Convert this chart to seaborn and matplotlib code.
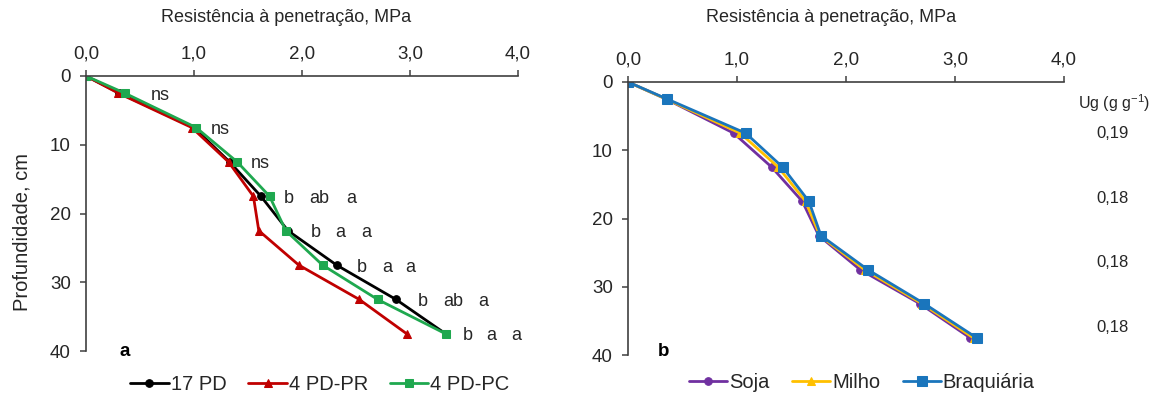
import matplotlib
matplotlib.use("Agg")
import matplotlib.pyplot as plt
import seaborn as sns
import pandas as pd
from matplotlib.ticker import FuncFormatter

depth = [0, 2.5, 7.5, 12.5, 17.5, 22.5, 27.5, 32.5, 37.5]

pd17 = [0.0, 0.31, 1.00, 1.33, 1.62, 1.87, 2.32, 2.87, 3.33]
pd_pr = [0.0, 0.30, 0.98, 1.32, 1.55, 1.60, 1.97, 2.53, 2.97]
pd_pc = [0.0, 0.36, 1.02, 1.40, 1.70, 1.85, 2.19, 2.70, 3.33]

soja = [0.0, 0.35, 0.97, 1.32, 1.60, 1.75, 2.13, 2.68, 3.14]
milho = [0.0, 0.35, 1.03, 1.38, 1.63, 1.76, 2.17, 2.70, 3.17]
braq = [0.0, 0.36, 1.08, 1.42, 1.66, 1.77, 2.20, 2.72, 3.20]

# significance letters (17 PD, 4 PD-PR, 4 PD-PC) per depth
sig_depths = [2.5, 7.5, 12.5, 17.5, 22.5, 27.5, 32.5, 37.5]
sig_letters = [["ns"], ["ns"], ["ns"],
               ["b", "ab", "a"], ["b", "a", "a"], ["b", "a", "a"],
               ["b", "ab", "a"], ["b", "a", "a"]]
sig_xpos = [[0.60], [1.16], [1.53],
            [1.83, 2.07, 2.41], [2.08, 2.31, 2.55], [2.51, 2.74, 2.96],
            [3.07, 3.31, 3.63], [3.49, 3.71, 3.94]]

ug_labels = ["0,19", "0,18", "0,18", "0,18"]
ug_depths = [7.5, 17.0, 26.4, 36.0]

sns.set_theme(style="white")
plt.rcParams['font.family'] = ['Liberation Sans', 'DejaVu Sans']

TXT = "#262626"
SP = "#404040"

fig = plt.figure(figsize=(11.66, 3.97), dpi=100)
axa = fig.add_axes([86 / 1166, 1 - 351 / 397, 432 / 1166, 275 / 397])
axb = fig.add_axes([628 / 1166, 1 - 355 / 397, 436 / 1166, 273 / 397])

fmt = FuncFormatter(lambda v, p: f"{v:.1f}".replace(".", ","))

def style(ax, title_xy):
    ax.set_xlim(0, 4)
    ax.set_ylim(40, 0)
    ax.xaxis.tick_top()
    ax.xaxis.set_label_position("top")
    ax.set_xticks([0, 1, 2, 3, 4])
    ax.set_yticks([0, 10, 20, 30, 40])
    ax.xaxis.set_major_formatter(fmt)
    for s in ["bottom", "right"]:
        ax.spines[s].set_visible(False)
    for s in ["top", "left"]:
        ax.spines[s].set_color(SP)
        ax.spines[s].set_linewidth(1.2)
    ax.tick_params(axis="both", which="major", length=4, width=1.1, color=SP,
                   labelsize=13.5, direction="out", top=True, left=True, bottom=False,
                   labelcolor=TXT)
    ax.tick_params(axis="x", pad=6)
    ax.tick_params(axis="y", pad=7)
    ax.set_xlabel("Resistência à penetração, MPa", fontsize=13, color=TXT)
    ax.xaxis.set_label_coords(*title_xy)
    ax.xaxis.label.set_va("center")

def draw(ax, vals, label, color, marker, ms):
    df = pd.DataFrame({"x": vals, "y": depth})
    sns.lineplot(data=df, x="x", y="y", orient="y", estimator=None, sort=False, ax=ax,
                 color=color, marker=marker, markersize=ms, markeredgecolor=color,
                 linewidth=2, label=label)

draw(axa, pd17, "17 PD", "black", "o", 5.5)
draw(axa, pd_pr, "4 PD-PR", "#C00000", "^", 5.5)
draw(axa, pd_pc, "4 PD-PC", "#1FA84F", "s", 5.5)
style(axa, ((286.5 - 86) / 432, (351 - 18) / 275))
axa.set_ylabel("Profundidade, cm", fontsize=14.5, color=TXT)
axa.yaxis.set_label_coords((22 - 86) / 432, (351 - 232) / 275)
axa.yaxis.label.set_va("center")
for d, labs, xs in zip(sig_depths, sig_letters, sig_xpos):
    for lab, x in zip(labs, xs):
        axa.text(x, d + 0.3, lab, fontsize=13, va="center", ha="left", color=TXT)
axa.text((120 - 86) / 432, (351 - 352) / 275, "a", transform=axa.transAxes,
         fontsize=13.5, fontweight="bold", ha="left", va="center", color="black")
axa.legend(loc="center", bbox_to_anchor=((320 - 86) / 432, (351 - 385) / 275), ncol=3,
           frameon=False, fontsize=14.5, handlelength=1.9, handletextpad=0.1,
           columnspacing=1.1, borderaxespad=0, labelcolor=TXT)

draw(axb, soja, "Soja", "#7030A0", "o", 5.5)
draw(axb, milho, "Milho", "#FFC000", "^", 5.5)
draw(axb, braq, "Braquiária", "#1A75BC", "s", 6.5)
style(axb, ((831 - 628) / 436, (355 - 18) / 273))
axb.set_ylabel("")
axb.text((658 - 628) / 436, (355 - 351) / 273, "b", transform=axb.transAxes,
         fontsize=13.5, fontweight="bold", ha="left", va="center", color="black")
axb.text(4.13, 3.1, "Ug (g g$^{\\mathregular{-1}}$)", fontsize=11.5, ha="left",
         va="center", color=TXT)
for lab, d in zip(ug_labels, ug_depths):
    axb.text(4.30, d, lab, fontsize=12, ha="left", va="center", color=TXT)
axb.legend(loc="center", bbox_to_anchor=((862 - 628) / 436, (355 - 383) / 273), ncol=3,
           frameon=False, fontsize=14.5, handlelength=1.9, handletextpad=0.1,
           columnspacing=1.1, borderaxespad=0, labelcolor=TXT)

fig.savefig("out.png", dpi=100)
